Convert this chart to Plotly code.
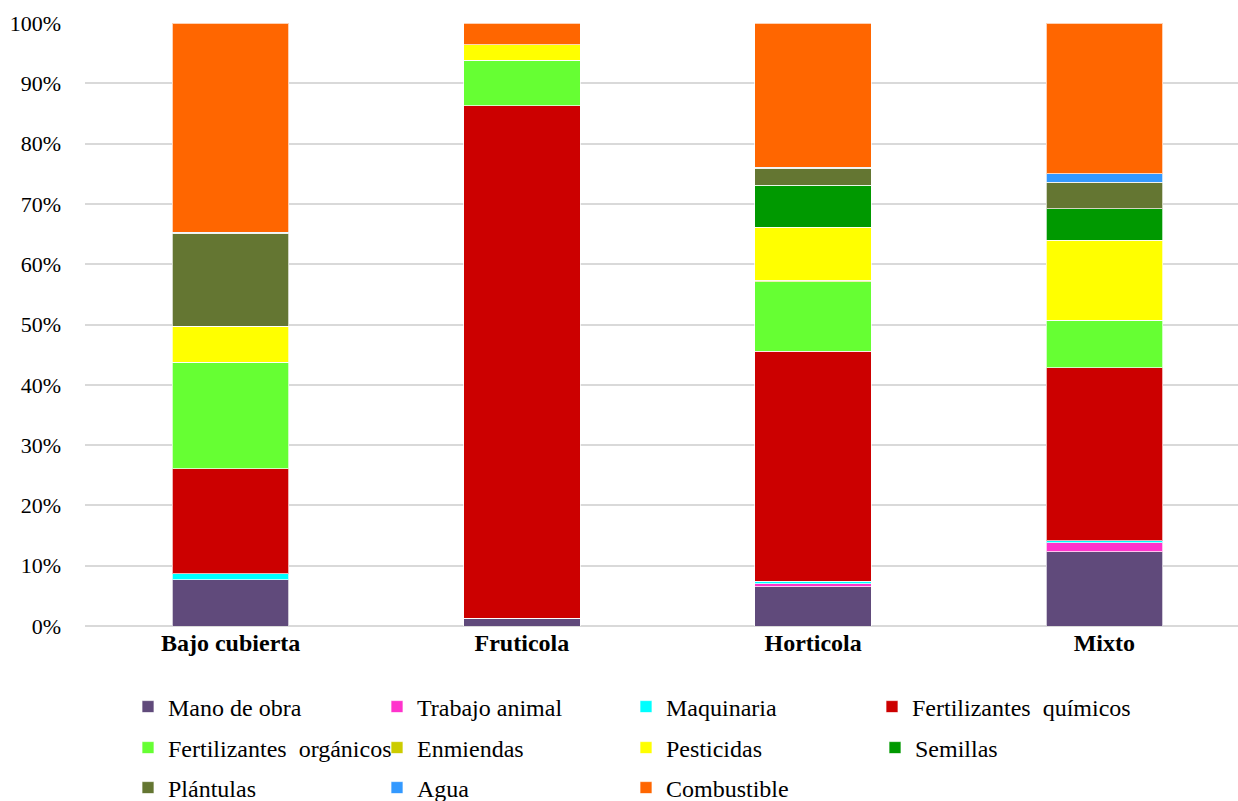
import plotly.graph_objects as go

# Cost structure by production system (percent of total)
categories = ["Bajo cubierta", "Fruticola", "Horticola", "Mixto"]

mano_de_obra = [7.7, 1.3, 6.5, 12.3]
trabajo_animal = [0.0, 0.0, 0.5, 1.5]
maquinaria = [1.0, 0.0, 0.4, 0.3]
fert_quimicos = [17.4, 85.0, 38.2, 28.7]
fert_organicos = [17.6, 7.5, 11.5, 7.9]
enmiendas = [0.0, 0.0, 0.2, 0.0]
pesticidas = [6.0, 2.6, 8.8, 13.3]
semillas = [0.0, 0.0, 7.0, 5.2]
plantulas = [15.4, 0.0, 2.8, 4.4]
agua = [0.2, 0.0, 0.2, 1.4]
combustible = [34.7, 3.6, 23.9, 25.0]

y_ticks = [0, 10, 20, 30, 40, 50, 60, 70, 80, 90, 100]
y_tick_labels = [f"{v}%" for v in y_ticks]

# legend rows: row 1 is split so its last (long) entry gets its own box
series = [
    ("Mano de obra", mano_de_obra, "#604A7B", "legend"),
    ("Trabajo animal", trabajo_animal, "#FF33CC", "legend"),
    ("Maquinaria", maquinaria, "#00FFFF", "legend"),
    ("Fertilizantes\u00a0 químicos", fert_quimicos, "#CC0000", "legend4"),
    ("Fertilizantes\u00a0 orgánicos", fert_organicos, "#66FF33", "legend2"),
    ("Enmiendas", enmiendas, "#CCCC00", "legend2"),
    ("Pesticidas", pesticidas, "#FFFF00", "legend2"),
    ("Semillas", semillas, "#009900", "legend2"),
    ("Plántulas", plantulas, "#647632", "legend3"),
    ("Agua", agua, "#3399FF", "legend3"),
    ("Combustible", combustible, "#FF6600", "legend3"),
]

FONT = "Liberation Serif"

fig = go.Figure()
for name, vals, color, leg in series:
    fig.add_trace(go.Bar(
        name=name, x=categories, y=vals,
        marker=dict(color=color, line=dict(color="rgba(255,255,255,0.7)", width=1)),
        legend=leg,
    ))

W, H = 1238, 801
LEG_X0 = 128
COL_W = 248
legend_style = dict(
    orientation="h", xref="container", yref="container",
    x=LEG_X0 / W, xanchor="left", yanchor="middle",
    font=dict(family=FONT, size=24, color="#000000"),
    entrywidth=COL_W - 44, entrywidthmode="pixels",
    bgcolor="rgba(0,0,0,0)", traceorder="normal",
)

fig.update_layout(
    barmode="stack",
    bargap=0.6,
    width=W, height=H,
    margin=dict(l=85, r=0, t=23, b=175),
    plot_bgcolor="white", paper_bgcolor="white",
    font=dict(family=FONT, size=22, color="#000000"),
    showlegend=True,
    legend=dict(legend_style, y=1 - 707 / H),
    legend2=dict(legend_style, y=1 - 748 / H),
    legend3=dict(legend_style, y=1 - 788 / H),
    legend4=dict(legend_style, y=1 - 707 / H, x=(LEG_X0 + 3 * COL_W) / W,
                 entrywidth=None),
    xaxis=dict(
        range=[-0.5, 3.5 - 12 / 291.5],
        tickfont=dict(family=FONT, size=24, color="#000000", weight="bold"),
        showline=False, ticks="", showgrid=False,
    ),
    yaxis=dict(
        range=[0, 100], tickvals=y_ticks, ticktext=y_tick_labels,
        showgrid=True, gridcolor="#D9D9D9", gridwidth=1.5,
        zeroline=True, zerolinecolor="#D9D9D9", zerolinewidth=1.5,
        showline=False, ticks="", ticklabelstandoff=23,
        tickfont=dict(family=FONT, size=22, color="#000000"),
    ),
)

fig.write_html("out.html")
